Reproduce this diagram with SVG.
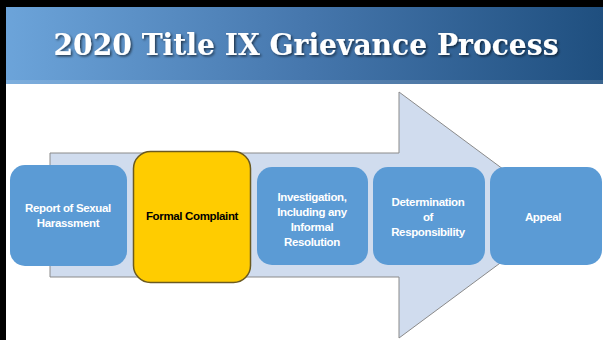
<svg xmlns="http://www.w3.org/2000/svg" width="603" height="340" viewBox="0 0 603 340">
<defs>
<linearGradient id="hdr" x1="0" y1="0" x2="1" y2="0">
<stop offset="0" stop-color="#6ca4da"/>
<stop offset="0.5" stop-color="#4677ad"/>
<stop offset="1" stop-color="#1f4f7f"/>
</linearGradient>
<filter id="sh" x="-5%" y="-20%" width="110%" height="150%">
<feDropShadow dx="1.5" dy="1.5" stdDeviation="0.8" flood-color="#000" flood-opacity="0.6"/>
</filter>
<style>
.box{fill:#5b9bd5;}
.lbl{font-family:"Liberation Sans",Arial,sans-serif;font-weight:bold;font-size:11.5px;fill:#fff;text-anchor:middle;letter-spacing:-0.35px;}
.dark{fill:#000;}
</style>
</defs>
<rect width="603" height="340" fill="#fff"/>
<g id="header">
<rect x="5" y="7" width="598" height="77" fill="url(#hdr)"/>
<rect x="5" y="80" width="598" height="4" fill="#ffffff" opacity="0.12"/>
<text x="306" y="55" font-family="'DejaVu Serif',serif" font-weight="bold" font-size="30" fill="#fff" text-anchor="middle" textLength="505" lengthAdjust="spacingAndGlyphs" filter="url(#sh)">2020 Title IX Grievance Process</text>
</g>
<rect x="0" y="0" width="603" height="7" fill="#000"/>
<rect x="0" y="0" width="6" height="340" fill="#000"/>
<g id="connectors">
<polygon points="50,153 399,153 399,92 565,215 399,338 399,277 50,277" fill="#d0dcee" stroke="#8a8a8a" stroke-width="1"/>
</g>
<g id="report">
<rect class="box" x="10" y="165" width="117" height="101" rx="15"/>
<text class="lbl" x="68" y="212">Report of Sexual</text>
<text class="lbl" x="68" y="227">Harassment</text>
</g>
<g id="formal">
<rect x="133.5" y="151.5" width="117" height="131" rx="17" fill="#ffcc00" stroke="#6b5a20" stroke-width="1.5"/>
<text class="lbl dark" x="192" y="220">Formal Complaint</text>
</g>
<g id="investigation">
<rect class="box" x="257" y="167" width="111" height="98" rx="15"/>
<text class="lbl" x="312" y="201">Investigation,</text>
<text class="lbl" x="312" y="216">Including any</text>
<text class="lbl" x="312" y="231">Informal</text>
<text class="lbl" x="312" y="246">Resolution</text>
</g>
<g id="determination">
<rect class="box" x="373" y="167" width="112" height="98" rx="15"/>
<text class="lbl" x="428" y="206">Determination</text>
<text class="lbl" x="428" y="221">of</text>
<text class="lbl" x="428" y="236">Responsibility</text>
</g>
<g id="appeal">
<rect class="box" x="490" y="167" width="112" height="98" rx="15"/>
<text class="lbl" x="543" y="221">Appeal</text>
</g>
</svg>
